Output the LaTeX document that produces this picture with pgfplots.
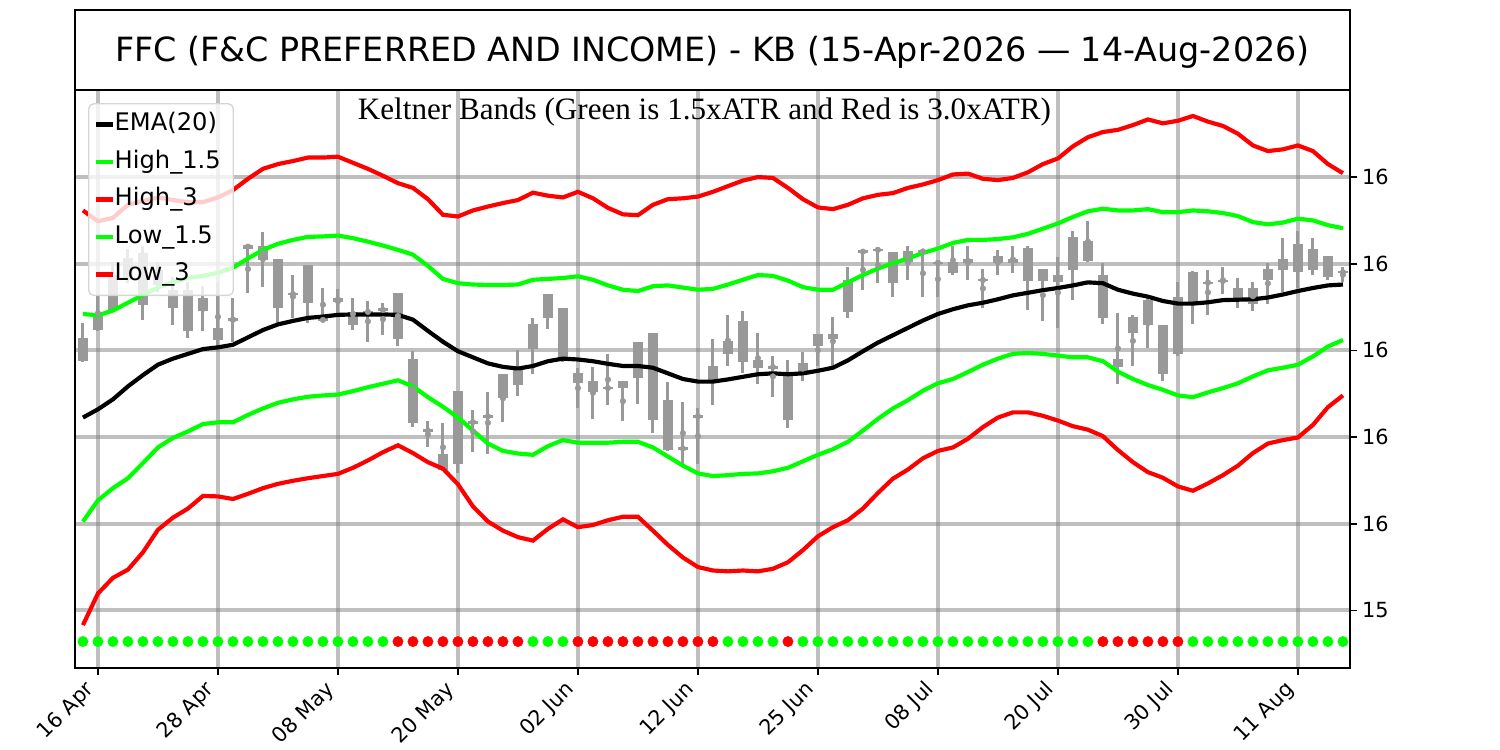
\documentclass[border=0pt]{standalone}
\usepackage{fontspec}
\setmainfont{DejaVu Sans}
\newfontfamily\timesfont{Liberation Serif}
\usepackage{pgfplots}
\usepackage{pgfplotstable}
\pgfplotsset{compat=1.18}
\definecolor{lime1}{RGB}{0,255,0}
\definecolor{red1}{RGB}{255,0,0}
\definecolor{candle}{RGB}{153,153,153}
\definecolor{legedge}{RGB}{214,214,214}

\pgfplotstableread{
i ema h15 h3 l15 l3
0 15.845 16.084 16.323 15.605 15.366
1 15.864 16.081 16.298 15.654 15.439
2 15.887 16.092 16.306 15.682 15.475
3 15.917 16.110 16.336 15.705 15.494
4 15.943 16.128 16.345 15.740 15.534
5 15.967 16.145 16.353 15.776 15.586
6 15.981 16.158 16.347 15.798 15.614
7 15.992 16.167 16.342 15.813 15.635
8 16.003 16.172 16.342 15.830 15.664
9 16.007 16.179 16.353 15.834 15.663
10 16.013 16.191 16.370 15.834 15.657
11 16.030 16.212 16.396 15.851 15.669
12 16.047 16.232 16.419 15.866 15.682
13 16.060 16.246 16.430 15.879 15.692
14 16.068 16.255 16.437 15.887 15.699
15 16.075 16.262 16.445 15.893 15.705
16 16.078 16.263 16.445 15.896 15.710
17 16.082 16.265 16.447 15.898 15.715
18 16.083 16.259 16.433 15.906 15.729
19 16.083 16.251 16.419 15.915 15.746
20 16.083 16.242 16.403 15.923 15.765
21 16.082 16.232 16.386 15.931 15.781
22 16.071 16.221 16.375 15.917 15.763
23 16.045 16.195 16.349 15.892 15.742
24 16.020 16.165 16.313 15.870 15.727
25 15.998 16.155 16.309 15.845 15.691
26 15.984 16.152 16.323 15.815 15.640
27 15.970 16.151 16.332 15.785 15.605
28 15.962 16.151 16.340 15.768 15.584
29 15.958 16.152 16.347 15.762 15.569
30 15.964 16.163 16.364 15.759 15.561
31 15.975 16.165 16.357 15.779 15.588
32 15.981 16.167 16.353 15.793 15.610
33 15.979 16.171 16.366 15.787 15.592
34 15.975 16.163 16.351 15.787 15.597
35 15.969 16.150 16.329 15.787 15.608
36 15.964 16.140 16.314 15.789 15.616
37 15.964 16.137 16.312 15.789 15.616
38 15.960 16.148 16.336 15.776 15.584
39 15.947 16.150 16.349 15.755 15.551
40 15.934 16.145 16.351 15.734 15.522
41 15.928 16.140 16.355 15.716 15.500
42 15.928 16.142 16.366 15.710 15.492
43 15.933 16.152 16.379 15.712 15.490
44 15.939 16.163 16.392 15.715 15.492
45 15.945 16.174 16.400 15.716 15.490
46 15.947 16.172 16.398 15.721 15.496
47 15.945 16.161 16.375 15.729 15.511
48 15.947 16.146 16.349 15.744 15.539
49 15.953 16.140 16.330 15.759 15.571
50 15.960 16.140 16.326 15.772 15.592
51 15.977 16.157 16.336 15.789 15.608
52 15.998 16.174 16.351 15.815 15.635
53 16.018 16.189 16.359 15.842 15.671
54 16.035 16.201 16.363 15.866 15.704
55 16.052 16.212 16.375 15.885 15.725
56 16.069 16.225 16.383 15.907 15.751
57 16.084 16.235 16.393 15.924 15.768
58 16.095 16.248 16.406 15.934 15.776
59 16.104 16.255 16.408 15.950 15.796
60 16.110 16.255 16.396 15.967 15.823
61 16.118 16.257 16.393 15.981 15.845
62 16.127 16.261 16.398 15.992 15.857
63 16.133 16.269 16.411 15.994 15.857
64 16.139 16.281 16.430 15.992 15.849
65 16.144 16.293 16.443 15.988 15.838
66 16.150 16.308 16.471 15.984 15.825
67 16.157 16.321 16.492 15.984 15.817
68 16.155 16.327 16.504 15.975 15.802
69 16.140 16.323 16.509 15.951 15.770
70 16.131 16.323 16.520 15.934 15.742
71 16.124 16.326 16.533 15.920 15.719
72 16.114 16.319 16.524 15.909 15.706
73 16.108 16.319 16.530 15.896 15.686
74 16.108 16.323 16.541 15.892 15.676
75 16.111 16.321 16.528 15.903 15.693
76 16.116 16.317 16.518 15.913 15.712
77 16.117 16.310 16.500 15.924 15.734
78 16.118 16.296 16.473 15.940 15.763
79 16.122 16.291 16.460 15.954 15.785
80 16.129 16.295 16.464 15.960 15.793
81 16.137 16.304 16.473 15.967 15.799
82 16.144 16.300 16.460 15.986 15.828
83 16.150 16.289 16.430 16.009 15.869
84 16.152 16.282 16.409 16.024 15.896
}\bands

\pgfplotstableread{
i hi lo bt bb
0 16.064 15.973 16.028 15.975
1 16.127 16.045 16.080 16.047
2 16.204 16.088 16.174 16.093
3 16.234 16.156 16.214 16.163
4 16.242 16.071 16.224 16.104
5 16.204 16.135 16.186 16.151
6 16.169 16.058 16.140 16.097
7 16.157 16.028 16.140 16.045
8 16.148 16.044 16.122 16.090
9 16.157 15.998 16.051 16.024
10 16.122 16.020 16.074 16.068
11 16.244 16.132 16.244 16.235
12 16.274 16.147 16.240 16.209
13 16.212 16.058 16.212 16.097
14 16.174 16.074 16.133 16.127
15 16.196 16.063 16.196 16.109
16 16.145 16.066 16.074 16.067
17 16.141 16.086 16.122 16.112
18 16.122 16.047 16.089 16.058
19 16.114 16.020 16.092 16.086
20 16.109 16.035 16.097 16.090
21 16.132 16.011 16.132 16.027
22 15.998 15.823 15.979 15.832
23 15.836 15.776 15.818 15.811
24 15.832 15.721 15.761 15.725
25 15.907 15.716 15.907 15.738
26 15.862 15.765 15.838 15.831
27 15.904 15.762 15.851 15.844
28 15.945 15.834 15.945 15.890
29 16.000 15.894 15.954 15.920
30 16.075 15.945 16.061 16.003
31 16.131 16.050 16.131 16.075
32 16.098 15.973 16.098 15.975
33 15.960 15.866 15.947 15.926
34 15.962 15.842 15.930 15.904
35 15.992 15.873 15.916 15.910
36 15.930 15.836 15.930 15.913
37 16.020 15.876 16.020 15.936
38 16.041 15.810 16.041 15.840
39 15.928 15.768 15.885 15.770
40 15.880 15.738 15.777 15.770
41 15.866 15.738 15.851 15.844
42 16.026 15.873 15.964 15.926
43 16.081 15.964 16.021 15.992
44 16.090 15.947 16.067 15.973
45 16.041 15.923 15.979 15.960
46 15.987 15.893 15.965 15.958
47 15.977 15.821 15.949 15.840
48 15.996 15.930 15.971 15.945
49 16.037 15.964 16.037 16.010
50 16.078 15.964 16.037 16.027
51 16.192 16.074 16.163 16.088
52 16.232 16.140 16.231 16.225
53 16.238 16.155 16.235 16.229
54 16.227 16.124 16.227 16.155
55 16.242 16.163 16.229 16.204
56 16.232 16.124 16.232 16.225
57 16.205 16.124 16.205 16.199
58 16.242 16.174 16.204 16.178
59 16.242 16.163 16.212 16.201
60 16.188 16.098 16.165 16.160
61 16.232 16.174 16.219 16.202
62 16.242 16.178 16.212 16.202
63 16.242 16.093 16.236 16.161
64 16.188 16.067 16.188 16.161
65 16.216 16.051 16.174 16.157
66 16.276 16.116 16.262 16.186
67 16.298 16.204 16.252 16.206
68 16.201 16.060 16.174 16.075
69 16.086 15.923 15.979 15.962
70 16.081 15.963 16.078 16.041
71 16.121 16.005 16.116 16.058
72 16.058 15.930 16.058 15.945
73 16.157 15.987 16.124 15.992
74 16.184 16.060 16.182 16.107
75 16.186 16.082 16.159 16.154
76 16.193 16.131 16.163 16.158
77 16.167 16.097 16.145 16.122
78 16.159 16.092 16.145 16.107
79 16.201 16.108 16.189 16.163
80 16.259 16.135 16.212 16.186
81 16.276 16.144 16.245 16.180
82 16.259 16.175 16.235 16.186
83 16.218 16.163 16.218 16.169
84 16.192 16.157 16.183 16.178
}\candles

\pgfplotstableread{
i y c
0 15.328 g
1 15.328 g
2 15.328 g
3 15.328 g
4 15.328 g
5 15.328 g
6 15.328 g
7 15.328 g
8 15.328 g
9 15.328 g
10 15.328 g
11 15.328 g
12 15.328 g
13 15.328 g
14 15.328 g
15 15.328 g
16 15.328 g
17 15.328 g
18 15.328 g
19 15.328 g
20 15.328 g
21 15.328 r
22 15.328 r
23 15.328 r
24 15.328 r
25 15.328 r
26 15.328 r
27 15.328 r
28 15.328 r
29 15.328 r
30 15.328 g
31 15.328 g
32 15.328 g
33 15.328 r
34 15.328 r
35 15.328 r
36 15.328 r
37 15.328 r
38 15.328 r
39 15.328 r
40 15.328 r
41 15.328 r
42 15.328 r
43 15.328 g
44 15.328 g
45 15.328 g
46 15.328 g
47 15.328 r
48 15.328 g
49 15.328 g
50 15.328 g
51 15.328 g
52 15.328 g
53 15.328 g
54 15.328 g
55 15.328 g
56 15.328 g
57 15.328 g
58 15.328 g
59 15.328 g
60 15.328 g
61 15.328 g
62 15.328 g
63 15.328 g
64 15.328 g
65 15.328 g
66 15.328 g
67 15.328 g
68 15.328 r
69 15.328 r
70 15.328 r
71 15.328 r
72 15.328 r
73 15.328 r
74 15.328 g
75 15.328 g
76 15.328 g
77 15.328 g
78 15.328 g
79 15.328 g
80 15.328 g
81 15.328 g
82 15.328 g
83 15.328 g
84 15.328 g
}\signals

\begin{document}
\begin{tikzpicture}
\begin{axis}[
  at={(0pt,0pt)}, anchor=south west,
  scale only axis, width=918pt, height=416.16pt,
  xmin=-0.53, xmax=84.47, ymin=15.267, ymax=16.601,
  axis line style={line width=1.2pt, black},
  xtick={1,9,17,25,33,41,49,57,65,73,81},
  xticklabels={16 Apr,28 Apr,08 May,20 May,02 Jun,12 Jun,25 Jun,08 Jul,20 Jul,30 Jul,11 Aug},
  ytick={15.4,15.6,15.8,16.0,16.2,16.4},
  yticklabels={15,16,16,16,16,16},
  xtick pos=left, ytick pos=right, yticklabel pos=right,
  tick align=outside, major tick length=5.25pt,
  major tick style={line width=1.2pt, black},
  /pgf/number format/assume math mode=true,
  ticklabel style={font=\fontsize{15}{18}\selectfont},
  xticklabel style={xshift=-10pt, yshift=-3pt, anchor=north east, inner sep=0pt, text height=10.9pt, text depth=3.5pt, rotate=45},
  yticklabel style={anchor=west},
  grid=major,
  major grid style={line width=3pt, color=gray, opacity=0.5},
  legend style={at={(0,1)}, anchor=north west, xshift=9.4pt, yshift=-9.4pt,
    fill=white, fill opacity=0.8, draw opacity=1, text opacity=1,
    draw=legedge, line width=1pt, rounded corners=3.6pt,
    font=\fontsize{17.4}{20}\selectfont,
    inner xsep=4pt, inner ysep=6.8pt, row sep=10.6pt,
    nodes={inner sep=0pt, text height=12.7pt, text depth=3.7pt}},
  legend cell align=left,
  legend image code/.code={\draw[#1, line width=3pt] (0pt,0pt) -- (11.7pt,0pt);},
]
% candles: wicks and bodies
\addplot[only marks, mark=none, forget plot, color=candle,
  error bars/.cd, y dir=both, y explicit, error mark=none,
  error bar style={line width=2.16pt, color=candle}]
  table[x=i, y expr=(\thisrow{hi}+\thisrow{lo})/2, y error expr=(\thisrow{hi}-\thisrow{lo})/2] {\candles};
\addplot[only marks, mark=none, forget plot, color=candle,
  error bars/.cd, y dir=both, y explicit, error mark=none,
  error bar style={line width=7.2pt, color=candle}]
  table[x=i, y expr=(\thisrow{bt}+\thisrow{bb})/2, y error expr=(\thisrow{bt}-\thisrow{bb})/2] {\candles};
% bands
\addplot[black, line width=3pt] table[x=i, y=ema] {\bands};
\addlegendentry{EMA(20)}
\addplot[lime1, line width=3pt] table[x=i, y=h15] {\bands};
\addlegendentry{High\_1.5\hspace*{5pt}}
\addplot[red1, line width=3pt] table[x=i, y=h3] {\bands};
\addlegendentry{High\_3}
\addplot[lime1, line width=3pt] table[x=i, y=l15] {\bands};
\addlegendentry{Low\_1.5}
\addplot[red1, line width=3pt] table[x=i, y=l3] {\bands};
\addlegendentry{Low\_3}
% signal dots
\addplot[scatter, only marks, forget plot, mark=*, mark size=3.7pt,
  scatter src=explicit symbolic,
  scatter/classes={g={mark=*, draw=lime1, fill=lime1}, r={mark=*, draw=red1, fill=red1}}]
  table[x=i, y=y, meta=c] {\signals};
\end{axis}
\draw[line width=1.2pt] (0pt,416.16pt) rectangle (918pt,473.76pt);
\node[anchor=base, inner sep=0pt, font=\fontsize{24}{28}\selectfont] at (459pt,437pt) {FFC (F\&C PREFERRED AND INCOME) - KB (15-Apr-2026 — 14-Aug-2026)};
\node[anchor=base, inner sep=0pt, font=\timesfont\fontsize{22.4}{26}\selectfont] at (453.2pt,394.56pt) {Keltner Bands (Green is 1.5xATR and Red is 3.0xATR)};
\pgfresetboundingbox
\path (-54pt,-59.04pt) rectangle (1026pt,480.96pt);
\end{tikzpicture}
\end{document}
